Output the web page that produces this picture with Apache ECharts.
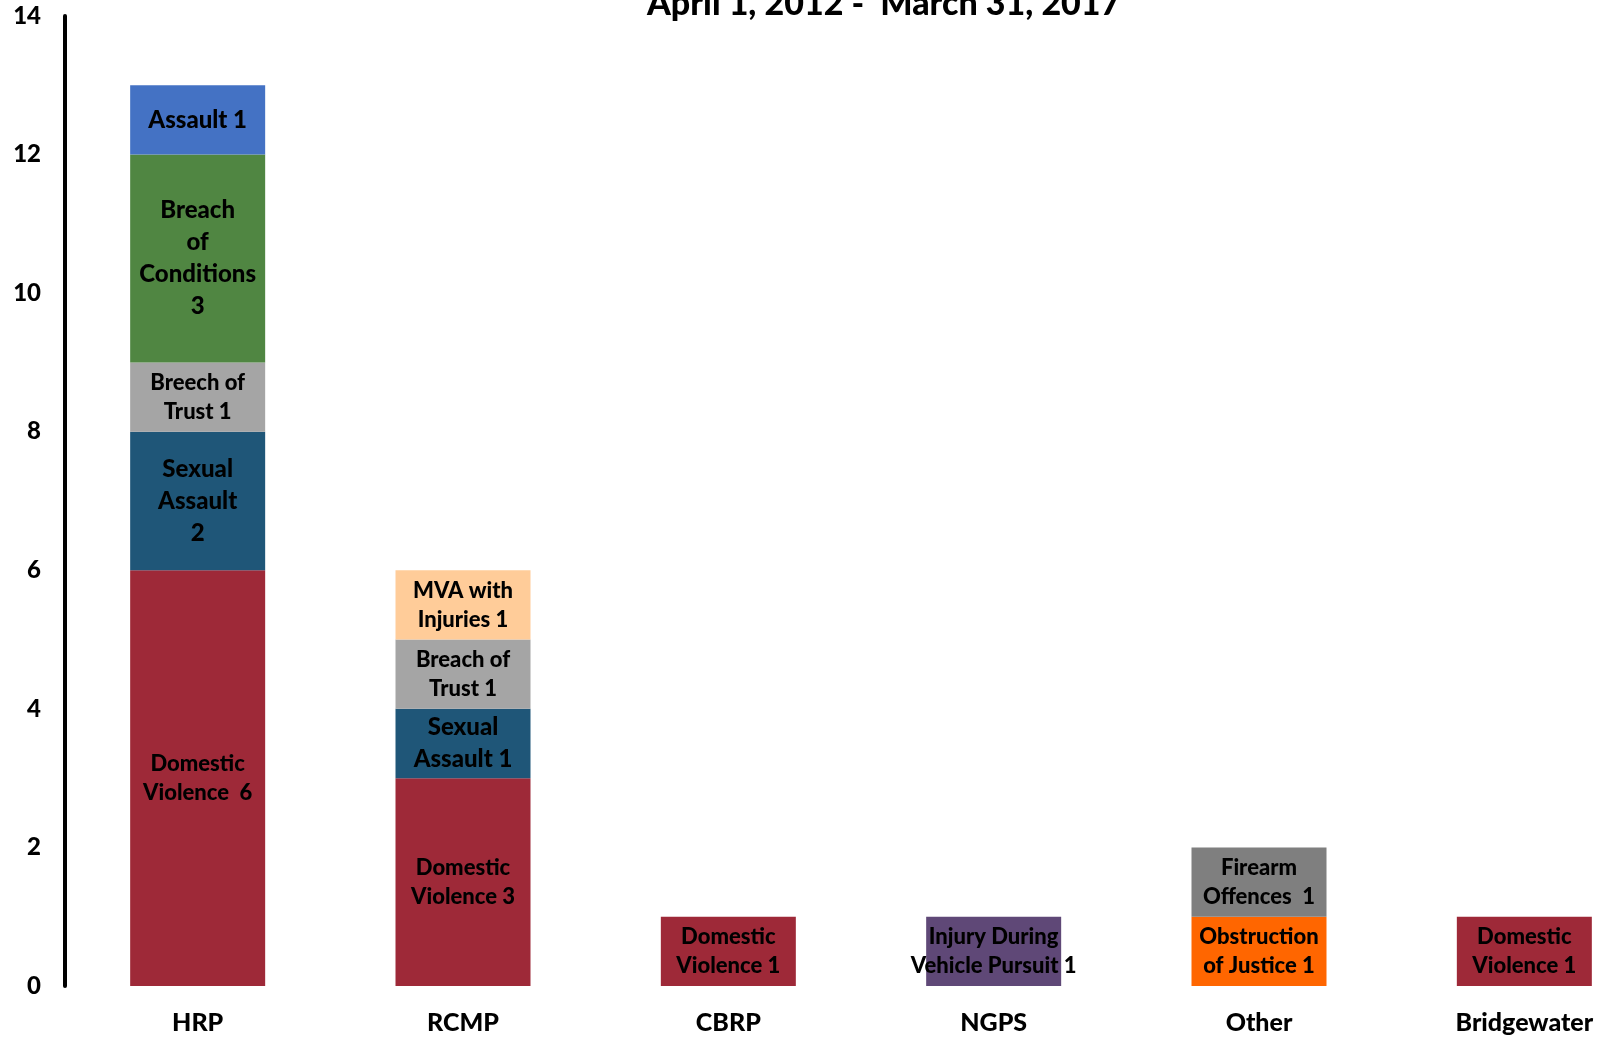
<!DOCTYPE html>
<html>
<head>
<meta charset="UTF-8">
<title>Incidents by agency</title>
<script src="https://cdn.jsdelivr.net/npm/echarts@6/dist/echarts.min.js"></script>
<style>
  * { margin: 0; padding: 0; }
  body { background: #fff; }
  #main { width: 1604px; height: 1037px; }
</style>
</head>
<body>
<div id="main"></div>
<script>
var categories = ['HRP', 'RCMP', 'CBRP', 'NGPS', 'Other', 'Bridgewater'];
var yTicks = [0, 2, 4, 6, 8, 10, 12, 14];

// counts per agency, one array per offence (stack order bottom -> top)
var domesticViolence = [6, 3, 1, null, null, 1];
var injuryPursuit    = [null, null, null, 1, null, null];
var obstruction      = [null, null, null, null, 1, null];
var sexualAssault    = [2, 1, null, null, null, null];
var breachTrust      = [1, 1, null, null, null, null];
var firearm          = [null, null, null, null, 1, null];
var breachConditions = [3, null, null, null, null, null];
var mvaInjuries      = [null, 1, null, null, null, null];
var assault          = [1, null, null, null, null, null];

// label texts as printed on each segment
var dvLabels  = ['Domestic\nViolence  6', 'Domestic\nViolence 3', 'Domestic\nViolence 1', null, null, 'Domestic\nViolence 1'];
var injLabels = [null, null, null, 'Injury During\nVehicle Pursuit 1', null, null];
var obsLabels = [null, null, null, null, 'Obstruction\nof Justice 1', null];
var saLabels  = ['Sexual\nAssault\n2', 'Sexual\nAssault 1', null, null, null, null];
var btLabels  = ['Breech of\nTrust 1', 'Breach of\nTrust 1', null, null, null, null];
var faLabels  = [null, null, null, null, 'Firearm\nOffences  1', null];
var bcLabels  = ['Breach\nof\nConditions\n3', null, null, null, null, null];
var mvaLabels = [null, 'MVA with\nInjuries 1', null, null, null, null];
var asLabels  = ['Assault 1', null, null, null, null, null];

var FONT = 'Lato';
var WEIGHT = 900;

function makeSeries(name, values, labels, color, size) {
  return {
    name: name,
    type: 'bar',
    stack: 'total',
    barWidth: 135,
    itemStyle: { color: color },
    label: {
      show: true,
      position: 'inside',
      color: '#000',
      fontFamily: FONT,
      fontWeight: WEIGHT,
      fontSize: size,
      lineHeight: Math.round(size * 1.33),
      align: 'center',
      formatter: function (p) { return labels[p.dataIndex] || ''; }
    },
    data: values
  };
}

var chart = echarts.init(document.getElementById('main'));
var option = {
  backgroundColor: '#fff',
  animation: false,
  title: {
    text: 'April 1, 2012 -  March 31, 2017',
    left: 642,
    top: -18,
    textStyle: {
      fontFamily: FONT,
      fontWeight: WEIGHT,
      fontSize: 34,
      lineHeight: 34,
      color: '#000'
    }
  },
  grid: {
    left: 65,
    right: -53,
    top: 16,
    bottom: 51,
    outerBoundsMode: 'none',
    containLabel: false
  },
  xAxis: {
    type: 'category',
    data: categories,
    axisLine: { show: false },
    axisTick: { show: false },
    axisLabel: {
      margin: 24,
      color: '#000',
      fontFamily: FONT,
      fontWeight: WEIGHT,
      fontSize: 25
    }
  },
  yAxis: {
    type: 'value',
    min: yTicks[0],
    max: yTicks[yTicks.length - 1],
    interval: 2,
    axisLine: { show: true, lineStyle: { color: '#000', width: 4 } },
    axisTick: { show: false },
    splitLine: { show: false },
    axisLabel: {
      margin: 24,
      color: '#000',
      fontFamily: FONT,
      fontWeight: WEIGHT,
      fontSize: 24
    }
  },
  series: [
    makeSeries('Domestic Violence', domesticViolence, dvLabels, '#9E2938', 22),
    makeSeries('Injury During Vehicle Pursuit', injuryPursuit, injLabels, '#5F4877', 22),
    makeSeries('Obstruction of Justice', obstruction, obsLabels, '#FF6600', 22),
    makeSeries('Sexual Assault', sexualAssault, saLabels, '#1F5678', 24),
    makeSeries('Breach of Trust', breachTrust, btLabels, '#A5A5A5', 22),
    makeSeries('Firearm Offences', firearm, faLabels, '#7F7F7F', 22),
    makeSeries('Breach of Conditions', breachConditions, bcLabels, '#508642', 24),
    makeSeries('MVA with Injuries', mvaInjuries, mvaLabels, '#FFCC99', 22),
    makeSeries('Assault', assault, asLabels, '#4472C4', 24)
  ]
};
chart.setOption(option);
</script>
</body>
</html>
